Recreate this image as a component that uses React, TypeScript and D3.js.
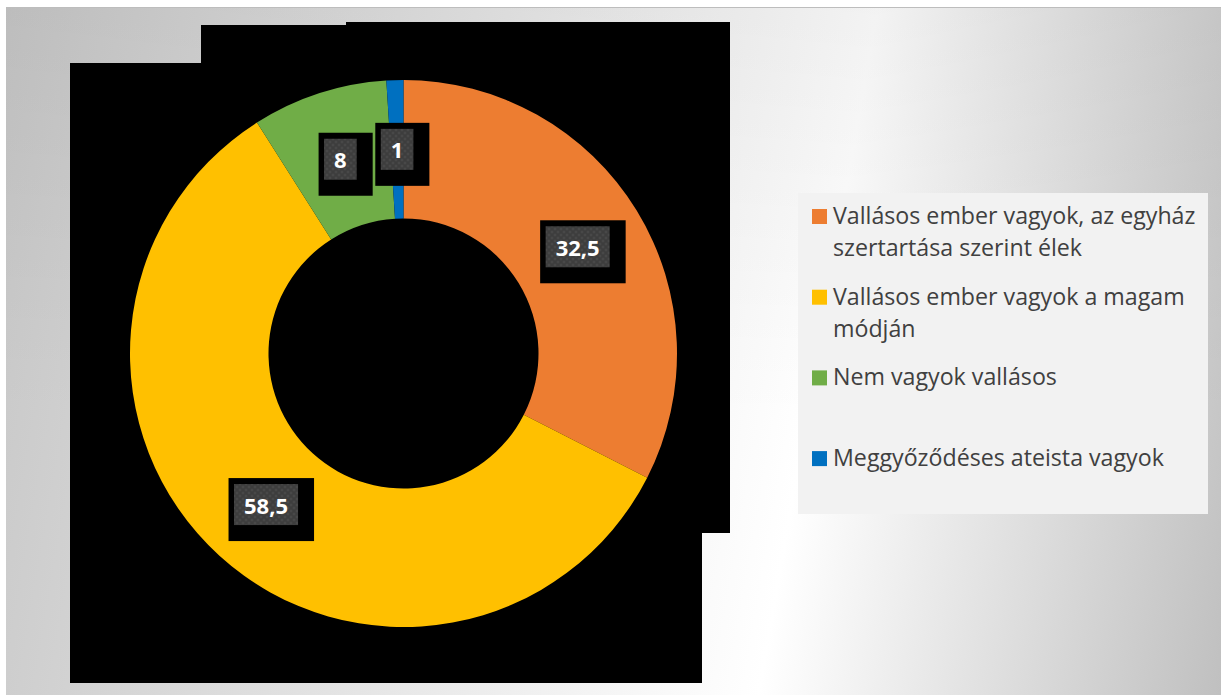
import React, { useEffect, useRef } from "react";
import * as d3 from "d3";

const categories = [
  "Vallásos ember vagyok, az egyház szertartása szerint élek",
  "Vallásos ember vagyok a magam módján",
  "Nem vagyok vallásos",
  "Meggyőződéses ateista vagyok",
];
const legendLines = [
  ["Vallásos ember vagyok, az egyház", "szertartása szerint élek"],
  ["Vallásos ember vagyok a magam", "módján"],
  ["Nem vagyok vallásos"],
  ["Meggyőződéses ateista vagyok"],
];
const values = [32.5, 58.5, 8, 1];
const valueLabels = ["32,5", "58,5", "8", "1"];
const colors = ["#ED7D31", "#FFC000", "#70AD47", "#0070C0"];

const W = 1221;
const H = 695;

export default function App() {
  const ref = useRef<SVGSVGElement>(null);

  useEffect(() => {
    const svg = d3.select(ref.current);
    svg.selectAll("*").remove();
    const defs = svg.append("defs");

    const lg = defs
      .append("linearGradient")
      .attr("id", "bg")
      .attr("gradientUnits", "userSpaceOnUse")
      .attr("x1", 0)
      .attr("y1", 0)
      .attr("x2", 1301)
      .attr("y2", 225);
    lg.append("stop").attr("offset", 0).attr("stop-color", "#c6c6c6");
    lg.append("stop").attr("offset", 0.656).attr("stop-color", "#ffffff");
    lg.append("stop").attr("offset", 1).attr("stop-color", "#c0c0c0");

    const vg = defs
      .append("linearGradient")
      .attr("id", "shade")
      .attr("x1", 0)
      .attr("y1", 0)
      .attr("x2", 0)
      .attr("y2", 1);
    vg.append("stop").attr("offset", 0).attr("stop-color", "#000").attr("stop-opacity", 0.05);
    vg.append("stop").attr("offset", 0.6).attr("stop-color", "#000").attr("stop-opacity", 0);

    const pat = defs
      .append("pattern")
      .attr("id", "dots")
      .attr("width", 6)
      .attr("height", 6)
      .attr("patternUnits", "userSpaceOnUse");
    pat.append("rect").attr("width", 6).attr("height", 6).attr("fill", "#3d3d3d");
    pat.append("circle").attr("cx", 1.5).attr("cy", 1.5).attr("r", 0.9).attr("fill", "#565656");
    pat.append("circle").attr("cx", 4.5).attr("cy", 4.5).attr("r", 0.9).attr("fill", "#565656");

    // page + background
    svg.append("rect").attr("width", W).attr("height", H).attr("fill", "#ffffff");
    svg
      .append("rect")
      .attr("x", 6)
      .attr("y", 7)
      .attr("width", W - 6)
      .attr("height", H - 7)
      .attr("fill", "url(#bg)");
    svg
      .append("rect")
      .attr("x", 6)
      .attr("y", 7)
      .attr("width", W - 6)
      .attr("height", H - 7)
      .attr("fill", "url(#shade)");
    svg
      .append("line")
      .attr("x1", 6)
      .attr("x2", W)
      .attr("y1", 7.5)
      .attr("y2", 7.5)
      .attr("stroke", "#bdbdbd")
      .attr("stroke-width", 1);

    // black plot-area blocks
    const blocks = [
      [70, 63, 632, 620],
      [201, 25, 529, 508],
      [346, 22, 384, 511],
    ];
    svg
      .append("g")
      .selectAll("rect")
      .data(blocks)
      .join("rect")
      .attr("x", (d) => d[0])
      .attr("y", (d) => d[1])
      .attr("width", (d) => d[2])
      .attr("height", (d) => d[3])
      .attr("fill", "#000");

    // donut
    const cx = 403.5;
    const cy = 353.5;
    const pie = d3.pie<number>().sort(null).value((d) => d);
    const arcs = pie(values);
    const arc = d3.arc<d3.PieArcDatum<number>>().innerRadius(135).outerRadius(273.5);
    const g = svg.append("g").attr("transform", `translate(${cx},${cy})`);
    g.selectAll("path")
      .data(arcs)
      .join("path")
      .attr("d", arc as any)
      .attr("fill", (_, i) => colors[i]);

    // data labels
    const lab = g.append("g");
    arcs.forEach((a, i) => {
      const [x, y] = arc.centroid(a);
      const grp = lab.append("g");
      const t = grp
        .append("text")
        .attr("x", x)
        .attr("y", y + 9)
        .attr("text-anchor", "middle")
        .attr("font-family", "'Open Sans', sans-serif")
        .attr("font-weight", 700)
        .attr("font-size", 22)
        .attr("fill", "#ffffff")
        .text(valueLabels[i]);
      const tw = (t.node() as SVGTextElement).getComputedTextLength();
      const bw = Math.max(tw + 20, 31);
      const bh = 41;
      const bx = x - bw / 2;
      const by = y - bh / 2;
      grp
        .insert("rect", "text")
        .attr("x", bx - 5.5)
        .attr("y", by - 6)
        .attr("width", bw + 21.5)
        .attr("height", bh + 22)
        .attr("fill", "#000");
      grp
        .insert("rect", "text")
        .attr("x", bx)
        .attr("y", by)
        .attr("width", bw)
        .attr("height", bh)
        .attr("fill", "url(#dots)");
    });

    // legend
    const leg = svg.append("g");
    leg
      .append("rect")
      .attr("x", 798)
      .attr("y", 193)
      .attr("width", 410)
      .attr("height", 321)
      .attr("fill", "#f2f2f2");
    categories.forEach((c, i) => {
      const base = 224 + i * 80.7;
      leg
        .append("rect")
        .attr("x", 812)
        .attr("y", base - 15)
        .attr("width", 15)
        .attr("height", 15)
        .attr("fill", colors[i]);
      const t = leg
        .append("text")
        .attr("font-family", "'Open Sans', sans-serif")
        .attr("font-size", 23.2)
        .attr("fill", "#404040")
        .attr("aria-label", c);
      legendLines[i].forEach((ln, j) => {
        t.append("tspan").attr("x", 833).attr("y", base + j * 32).text(ln);
      });
    });
  }, []);

  return (
    <svg
      ref={ref}
      width={W}
      height={H}
      style={{ position: "absolute", left: 0, top: 0, display: "block" }}
    />
  );
}
